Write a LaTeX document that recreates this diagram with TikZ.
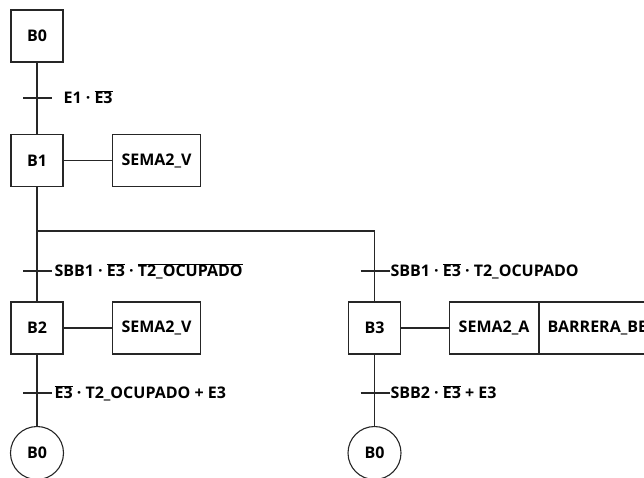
\documentclass[tikz,border=0pt]{standalone}
\usepackage{fontspec}
\setmainfont{Open Sans}
\newcommand\ovl[1]{$\overline{\hbox{#1}}$}
\begin{document}
\begin{tikzpicture}[x=1pt,y=-1pt, line width=1.1pt, draw=black!85,
  font=\fontsize{16}{19}\selectfont\bfseries,
  stepbox/.style={draw, minimum width=52pt, minimum height=52pt, inner sep=0},
  actbox/.style={draw, minimum height=52pt, inner sep=0, anchor=west},
  endc/.style={draw, circle, minimum size=53pt, inner sep=0},
  lbl/.style={anchor=base west, inner sep=0}]
\useasboundingbox (0,0) rectangle (644,477);
\clip (0,0) rectangle (644,477);
% steps
\node[stepbox] (b0) at (37,36) {B0};
\node[stepbox] (b1) at (37,160.5) {B1};
\node[actbox, minimum width=88pt] (a1) at (112,160.5) {SEMA2\_V};
\node[stepbox] (b2) at (37,328) {B2};
\node[actbox, minimum width=88pt] (a2) at (112,328) {SEMA2\_V};
\node[stepbox] (b3) at (374.5,328) {B3};
\node[actbox, minimum width=89pt] (a3) at (449,328) {SEMA2\_A};
\node[draw, anchor=west, minimum height=52pt, text width=134pt, inner xsep=8pt, inner ysep=0, align=left] (a4) at (a3.east) {BARRERA\_BB};
\node[endc] (e1) at (37,453) {B0};
\node[endc] (e2) at (374.5,453) {B0};
% connectors
\coordinate (j) at (37,231);
\coordinate (jr) at (374.5,231);
\draw (b0) -- (b1);
\draw (b1) -- (a1);
\draw (b1.south) -- (b2.north);
\draw (j) -- (jr) -- (b3.north);
\draw (b2) -- (a2);
\draw (b3) -- (a3);
\draw (b2) -- (e1);
\draw (b3) -- (e2);
% transition bars
\coordinate (t1) at (37,98);
\coordinate (t2) at (37,271);
\coordinate (t3) at (37,393);
\coordinate (t4) at (374.5,271);
\coordinate (t5) at (374.5,393);
\foreach \t in {t1,t2,t3,t4,t5}{\draw ([xshift=-14pt]\t) -- ([xshift=15pt]\t);}
% labels
\node[lbl] (l1) at (63,103.8) {E1 · \ovl{E3}};
\node[lbl] (l2) at (54,276.8) {SBB1 · \ovl{E3} · \ovl{T2\_OCUPADO}};
\node[lbl] (l3) at (54,398.8) {\ovl{E3} · T2\_OCUPADO + E3};
\node[lbl] (l4) at (390,276.8) {SBB1 · \ovl{E3} · T2\_OCUPADO};
\node[lbl] (l5) at (390,398.8) {SBB2 · \ovl{E3} + E3};
\end{tikzpicture}
\end{document}
